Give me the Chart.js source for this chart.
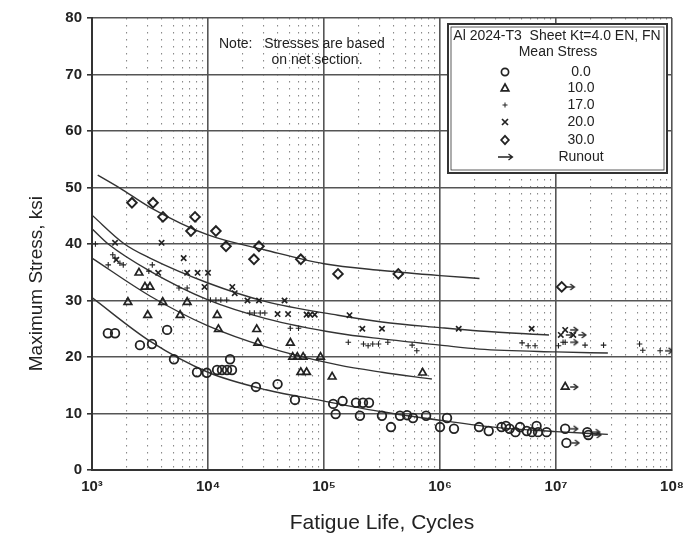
<!DOCTYPE html>
<html><head><meta charset="utf-8">
<script src="https://cdn.jsdelivr.net/npm/chart.js@4"></script>
<style>html,body{margin:0;padding:0;background:#fff;}#wrap{position:relative;width:696px;height:537px;}</style>
</head><body><div id="wrap"><canvas id="c" width="696" height="537"></canvas></div>
<script>
// ---------- data ----------
const ms0_N = [1370,1580,2590,3290,4440,5090,8040,9770,11970,13200,14590,16100,15500,25900,39800,56200,120000,126000,144500,188800,216800,244300,204000,316000,452000,520000,585000,378000,759000,1000000,1150000,1320000,2170000,2630000,3390000,3700000,3980000,4470000,4900000,5600000,6200000,6800000,7000000,8300000];
const ms0_S = [24.2,24.2,22.1,22.3,24.8,19.6,17.3,17.2,17.7,17.7,17.7,17.7,19.6,14.7,15.2,12.4,11.7,9.9,12.2,11.9,11.9,11.9,9.6,9.6,9.6,9.7,9.2,7.6,9.6,7.6,9.2,7.3,7.6,6.9,7.6,7.8,7.3,6.7,7.6,6.9,6.7,7.8,6.7,6.7];
const ms0_runN = [12000000,12300000,18600000,19000000];
const ms0_runS = [7.3,4.8,6.7,6.2];

const ms10_N = [2040,2540,2860,3160,3020,4070,5750,6610,12000,12300,26300,26900,51300,53700,58900,66100,93300,63100,70800,117500,708000];
const ms10_S = [29.7,34.9,32.4,32.4,27.4,29.7,27.4,29.7,27.4,24.9,24.9,22.5,22.5,20.0,20.0,20.0,20.0,17.3,17.3,16.5,17.2];
const ms10_runN = [12000000];
const ms10_runS = [14.7];

const ms17_N = [1070,1380,1510,1580,1740,1860,3310,3090,5620,6610,10500,11700,12900,14500,22900,25100,28200,30900,51300,60300,162000,219000,240000,263000,295000,355000,575000,631000,5100000,5750000,6600000,10500000,11500000,17800000,25700000,52500000,56000000];
const ms17_S = [40.0,36.3,38.1,37.5,36.6,36.3,36.3,35.2,32.2,32.2,30.1,30.1,30.1,30.1,27.8,27.8,27.8,27.8,25.1,25.1,22.6,22.3,22.0,22.3,22.3,22.6,22.1,21.1,22.5,22.0,22.0,22.0,22.6,22.1,22.1,22.3,21.2];
const ms17_runN = [79000000,12000000];
const ms17_runS = [21.1,22.6];

const ms20_N = [1580,1620,3980,6170,3720,6610,8130,10000,9330,16200,17000,21900,27500,45700,39800,49000,70800,75900,83200,166000,214000,316000,1450000,6170000];
const ms20_S = [40.2,37.2,40.2,37.5,34.9,34.9,34.9,34.9,32.4,32.4,31.3,30.0,30.0,30.0,27.6,27.6,27.5,27.5,27.5,27.4,25.0,25.0,25.0,25.0];
const ms20_runN = [11000000,14100000,12000000];
const ms20_runS = [23.9,23.9,24.8];

const ms30_N = [2210,3360,4090,7730,7130,11700,14300,27500,24900,63100,132000,437000];
const ms30_S = [47.3,47.3,44.8,44.8,42.3,42.3,39.6,39.6,37.3,37.3,34.7,34.7];
const ms30_runN = [11200000];
const ms30_runS = [32.4];

// fitted curves
const curve30_N = [1120,1740,3160,10000,31600,100000,316000,1000000,2190000];
const curve30_S = [52.2,49.9,46.5,41.6,38.9,36.5,35.3,34.4,33.9];
const curve20_N = [1000,1905,3160,10000,31600,132000,316000,1000000,2190000,8700000];
const curve20_S = [45.1,40.0,37.5,33.1,29.8,27.4,26.2,25.2,24.6,23.9];
const curve17_N = [1000,1380,3160,10000,31600,132000,316000,1000000,2190000,10000000,28000000];
const curve17_S = [42.7,40.0,35.2,30.1,26.8,24.2,23.2,22.1,21.4,20.9,20.7];
const curve10_N = [1000,3160,10000,31600,132000,316000,851000];
const curve10_S = [37.5,30.8,25.5,21.8,18.6,17.3,16.1];
const curve0_N = [1000,3160,10000,31600,100000,316000,1000000,3160000,10000000,28000000];
const curve0_S = [30.5,22.8,17.3,14.2,12.2,10.3,8.8,7.5,6.8,6.3];

const yTicks = [0,10,20,30,40,50,60,70,80];
const xDecades = [1e3,1e4,1e5,1e6,1e7,1e8];
const xMinorMult = [2,3,4,5,6,7,8,9];
const legendTitle = 'Al 2024-T3  Sheet Kt=4.0 EN, FN';
const legendSub = 'Mean Stress';
const legendLabels = ['0.0','10.0','17.0','20.0','30.0','Runout'];
const noteLines = ['Note:   Stresses are based','on net section.'];
const xTitle = 'Fatigue Life, Cycles';
const yTitle = 'Maximum Stress, ksi';

// ---------- helpers ----------
const zip = (N,S) => N.map((n,i)=>({x:n,y:S[i]}));
const SUP = ['\u2070','\u00B9','\u00B2','\u00B3','\u2074','\u2075','\u2076','\u2077','\u2078','\u2079'];
const FONT = "'Liberation Sans', Arial, Helvetica, sans-serif";
const INK = '#222';
const minorVals = [];
xDecades.slice(0,-1).forEach(d => xMinorMult.forEach(m => minorVals.push(d*m)));

function makeArrow(){
  const c = document.createElement('canvas'); c.width = 28; c.height = 10;
  const g = c.getContext('2d');
  g.strokeStyle = INK; g.lineWidth = 1.4;
  g.beginPath(); g.moveTo(19,5); g.lineTo(26,5); g.stroke();
  g.beginPath(); g.moveTo(22.5,2); g.lineTo(26.5,5); g.lineTo(22.5,8); g.stroke();
  return c;
}
const arrowImg = makeArrow();

const markerBase = {showLine:false, borderColor:INK, backgroundColor:'rgba(0,0,0,0)', order:1};
const curveBase = {showLine:true, pointRadius:0, borderColor:'#333', borderWidth:1.4, fill:false, cubicInterpolationMode:'monotone', order:2};

const datasets = [
  {...curveBase, label:'c30', data: zip(curve30_N,curve30_S)},
  {...curveBase, label:'c20', data: zip(curve20_N,curve20_S)},
  {...curveBase, label:'c17', data: zip(curve17_N,curve17_S)},
  {...curveBase, label:'c10', data: zip(curve10_N,curve10_S)},
  {...curveBase, label:'c0',  data: zip(curve0_N,curve0_S)},
  {...markerBase, label:'0.0', pointStyle:'circle', pointRadius:4.3, borderWidth:1.8, data: zip(ms0_N.concat(ms0_runN), ms0_S.concat(ms0_runS))},
  {...markerBase, label:'10.0', pointStyle:'triangle', pointRadius:4.4, borderWidth:1.7, data: zip(ms10_N.concat(ms10_runN), ms10_S.concat(ms10_runS))},
  {...markerBase, label:'17.0', pointStyle:'cross', pointRadius:2.8, borderWidth:1.1, data: zip(ms17_N.concat(ms17_runN), ms17_S.concat(ms17_runS))},
  {...markerBase, label:'20.0', pointStyle:'crossRot', pointRadius:3.8, borderWidth:1.6, data: zip(ms20_N.concat(ms20_runN), ms20_S.concat(ms20_runS))},
  {...markerBase, label:'30.0', pointStyle:'rectRot', pointRadius:4.8, borderWidth:1.9, data: zip(ms30_N.concat(ms30_runN), ms30_S.concat(ms30_runS))},
  {...markerBase, label:'Runout', pointStyle:arrowImg, pointRadius:5,
    data: zip([].concat(ms0_runN,ms10_runN,ms17_runN,ms20_runN,ms30_runN), [].concat(ms0_runS,ms10_runS,ms17_runS,ms20_runS,ms30_runS))}
];

function drawMarker(ctx, kind, x, y){
  ctx.save(); ctx.strokeStyle = INK; ctx.lineWidth = 1.7; ctx.beginPath();
  if (kind===0){ ctx.arc(x,y,3.6,0,Math.PI*2); }
  else if (kind===1){ ctx.moveTo(x,y-4); ctx.lineTo(x+3.8,y+2.8); ctx.lineTo(x-3.8,y+2.8); ctx.closePath(); }
  else if (kind===2){ ctx.lineWidth=1; ctx.moveTo(x-2.5,y); ctx.lineTo(x+2.5,y); ctx.moveTo(x,y-2.5); ctx.lineTo(x,y+2.5); }
  else if (kind===3){ ctx.moveTo(x-3,y-3); ctx.lineTo(x+3,y+3); ctx.moveTo(x+3,y-3); ctx.lineTo(x-3,y+3); }
  else if (kind===4){ ctx.lineWidth=1.8; ctx.moveTo(x,y-4.2); ctx.lineTo(x+3.8,y); ctx.lineTo(x,y+4.2); ctx.lineTo(x-3.8,y); ctx.closePath(); }
  else { ctx.lineWidth=1.3; ctx.moveTo(x-7,y); ctx.lineTo(x+7,y); ctx.moveTo(x+3.5,y-3); ctx.lineTo(x+7.5,y); ctx.lineTo(x+3.5,y+3); }
  ctx.stroke(); ctx.restore();
}

const annot = {
  id:'annot',
  afterDraw(chart){
    const ctx = chart.ctx; ctx.save();
    // note
    ctx.fillStyle = INK; ctx.font = '14px ' + FONT; ctx.textBaseline = 'middle';
    ctx.textAlign = 'left'; ctx.fillText(noteLines[0], 219, 44);
    ctx.textAlign = 'center'; ctx.fillText(noteLines[1], 317, 60);
    // legend box
    const bx = 448, by = 24, bw = 219, bh = 149;
    ctx.fillStyle = '#fff'; ctx.fillRect(bx, by, bw, bh);
    ctx.strokeStyle = '#333'; ctx.lineWidth = 2; ctx.strokeRect(bx, by, bw, bh);
    ctx.lineWidth = 0.8; ctx.strokeRect(bx+3, by+3, bw-6, bh-6);
    ctx.fillStyle = INK; ctx.font = '14px ' + FONT; ctx.textAlign = 'center';
    ctx.fillText(legendTitle, 557, 36);
    ctx.fillText(legendSub, 558, 52);
    const rows = [72, 88, 105, 122, 140, 157];
    legendLabels.forEach((t,i)=>{
      drawMarker(ctx, i, 505, rows[i]);
      ctx.fillStyle = INK; ctx.textAlign = 'center';
      ctx.fillText(t, 581, rows[i]);
    });
    ctx.restore();
  }
};

new Chart(document.getElementById('c'), {
  type:'scatter',
  data:{datasets},
  plugins:[annot],
  options:{
    responsive:false, animation:false, devicePixelRatio:1,
    layout:{padding:{left:0, top:18, right:24, bottom:0}},
    plugins:{legend:{display:false}, tooltip:{enabled:false}},
    scales:{
      x:{
        type:'logarithmic', min:1e3, max:1e8, position:'bottom',
        afterBuildTicks: s => { s.ticks = xDecades.map(v=>({value:v, major:true})); },
        afterFit: s => { s.height = 67; },
        ticks:{autoSkip:false, maxRotation:0, padding:8, color:INK,
          font:{family:FONT, size:15, weight:'bold'},
          callback: v => '10' + SUP[Math.round(Math.log10(v))]},
        grid:{color:'#555', lineWidth:1.6, drawTicks:false},
        border:{display:true, color:'#333', width:2},
        title:{display:true, text:xTitle, color:INK, font:{family:FONT, size:21}, padding:{top:0, bottom:1}}
      },
      xMinor:{
        type:'logarithmic', min:1e3, max:1e8, position:'bottom', display:true,
        afterBuildTicks: s => { s.ticks = minorVals.map(v=>({value:v})); },
        afterFit: s => { s.height = 0; },
        ticks:{display:false},
        grid:{color:'#8a8a8a', lineWidth:1.1, drawTicks:false},
        border:{display:false, dash:[1.5,5.5]}
      },
      y:{
        type:'linear', min:0, max:80,
        afterBuildTicks: s => { s.ticks = yTicks.map(v=>({value:v})); },
        afterFit: s => { s.width = 92; },
        ticks:{padding:5, color:INK, font:{family:FONT, size:15, weight:'bold'}},
        grid:{color:'#555', lineWidth:1.6, tickLength:5, tickColor:'#333'},
        border:{display:true, color:'#333', width:2},
        title:{display:true, text: yTitle + '\u00A0'.repeat(15), color:INK, font:{family:FONT, size:19}, padding:{top:25, bottom:0}}
      }
    }
  }
});
</script>
</body></html>
